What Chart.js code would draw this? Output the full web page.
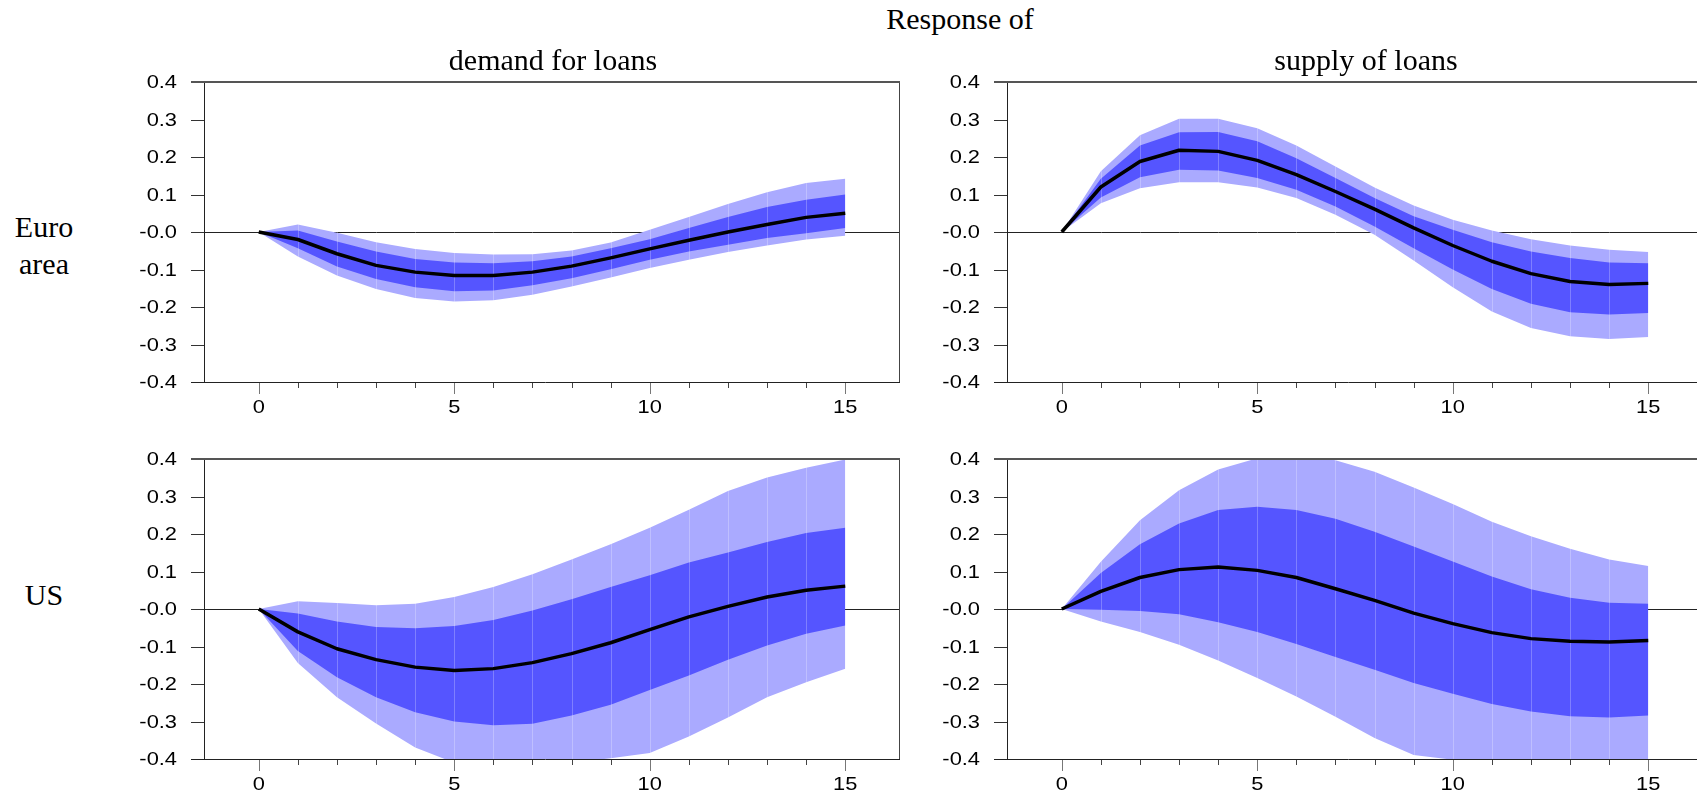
<!DOCTYPE html>
<html>
<head>
<meta charset="utf-8">
<script src="https://cdn.jsdelivr.net/npm/chart.js@4.4.1/dist/chart.umd.min.js"></script>
<style>
  html, body { margin: 0; padding: 0; background: #fff; overflow: hidden; }
  body { width: 1697px; height: 795px; position: relative; }
  canvas { position: absolute; }
  .lbl {
    position: absolute;
    font-family: "Liberation Serif", "Times New Roman", serif;
    font-size: 30px;
    line-height: 30px;
    color: #000;
    white-space: nowrap;
    transform: translateX(-50%);
  }
</style>
</head>
<body>
<script>
'use strict';

// Section 1: data
const horizons = [0, 1, 2, 3, 4, 5, 6, 7, 8, 9, 10, 11, 12, 13, 14, 15];
const xMajorTicks = [0, 5, 10, 15];
const xMajorLabels = ['0', '5', '10', '15'];
const yTickValues = [-0.4, -0.3, -0.2, -0.1, 0, 0.1, 0.2, 0.3, 0.4];
const yTickLabels = ['-0.4', '-0.3', '-0.2', '-0.1', '-0.0', '0.1', '0.2', '0.3', '0.4'];

const mainTitle = 'Response of';
const columnTitles = ['demand for loans', 'supply of loans'];
const rowTitles = [['Euro', 'area'], ['US']];

// euro area, demand for loans
const euroDemandMean = [0, -0.02, -0.058, -0.089, -0.107, -0.116, -0.116, -0.107, -0.091, -0.069, -0.045, -0.022, 0.0, 0.02, 0.039, 0.05];
const euroDemandUp68 = [0, 0.004, -0.025, -0.052, -0.072, -0.081, -0.083, -0.078, -0.065, -0.043, -0.019, 0.011, 0.04, 0.067, 0.086, 0.1];
const euroDemandLo68 = [0, -0.043, -0.092, -0.125, -0.147, -0.158, -0.156, -0.142, -0.123, -0.099, -0.074, -0.052, -0.034, -0.016, -0.003, 0.011];
const euroDemandUp90 = [0, 0.02, -0.002, -0.027, -0.045, -0.056, -0.06, -0.059, -0.049, -0.028, 0.006, 0.04, 0.075, 0.106, 0.131, 0.142];
const euroDemandLo90 = [0, -0.065, -0.116, -0.152, -0.176, -0.185, -0.182, -0.167, -0.145, -0.121, -0.096, -0.074, -0.053, -0.036, -0.02, -0.01];

// euro area, supply of loans
const euroSupplyMean = [0, 0.12, 0.188, 0.218, 0.215, 0.191, 0.153, 0.108, 0.061, 0.011, -0.036, -0.078, -0.111, -0.132, -0.14, -0.137];
const euroSupplyUp68 = [0, 0.142, 0.231, 0.266, 0.267, 0.242, 0.197, 0.144, 0.091, 0.042, 0.006, -0.027, -0.052, -0.069, -0.081, -0.083];
const euroSupplyLo68 = [0, 0.092, 0.146, 0.166, 0.164, 0.144, 0.113, 0.068, 0.015, -0.043, -0.1, -0.152, -0.191, -0.214, -0.22, -0.216];
const euroSupplyUp90 = [0, 0.162, 0.258, 0.302, 0.302, 0.277, 0.231, 0.175, 0.119, 0.071, 0.033, 0.004, -0.019, -0.036, -0.047, -0.053];
const euroSupplyLo90 = [0, 0.077, 0.117, 0.133, 0.133, 0.119, 0.091, 0.046, -0.007, -0.076, -0.147, -0.212, -0.256, -0.278, -0.285, -0.28];

// US, demand for loans
const usDemandMean = [0, -0.061, -0.106, -0.135, -0.155, -0.164, -0.159, -0.143, -0.119, -0.09, -0.055, -0.021, 0.007, 0.032, 0.05, 0.061];
const usDemandUp68 = [0, -0.012, -0.033, -0.048, -0.051, -0.045, -0.029, -0.004, 0.026, 0.059, 0.09, 0.124, 0.151, 0.179, 0.203, 0.217];
const usDemandLo68 = [0, -0.112, -0.182, -0.235, -0.275, -0.3, -0.31, -0.306, -0.284, -0.255, -0.216, -0.177, -0.135, -0.097, -0.066, -0.044];
const usDemandUp90 = [0, 0.021, 0.016, 0.01, 0.014, 0.032, 0.059, 0.093, 0.132, 0.173, 0.217, 0.265, 0.315, 0.351, 0.377, 0.399];
const usDemandLo90 = [0, -0.144, -0.235, -0.305, -0.369, -0.41, -0.425, -0.42, -0.41, -0.398, -0.384, -0.34, -0.289, -0.235, -0.195, -0.159];

// US, supply of loans
const usSupplyMean = [0, 0.047, 0.084, 0.105, 0.112, 0.103, 0.084, 0.054, 0.023, -0.011, -0.039, -0.063, -0.079, -0.086, -0.088, -0.084];
const usSupplyUp68 = [0, 0.096, 0.173, 0.228, 0.264, 0.273, 0.264, 0.241, 0.206, 0.167, 0.127, 0.087, 0.053, 0.03, 0.017, 0.014];
const usSupplyLo68 = [0, -0.002, -0.005, -0.014, -0.035, -0.061, -0.093, -0.128, -0.162, -0.197, -0.226, -0.253, -0.273, -0.286, -0.289, -0.284];
const usSupplyUp90 = [0, 0.126, 0.237, 0.317, 0.372, 0.402, 0.41, 0.397, 0.366, 0.324, 0.28, 0.233, 0.194, 0.161, 0.132, 0.115];
const usSupplyLo90 = [0, -0.033, -0.061, -0.095, -0.137, -0.184, -0.233, -0.287, -0.344, -0.389, -0.402, -0.415, -0.42, -0.42, -0.42, -0.415];


// Section 2: layout and styles
const bandLight = '#aaaaff';
const bandDark = '#5555ff';
const tickFont = '19px "Liberation Sans", Arial, sans-serif';
const tickStretch = 1.15;

const plotWidth = 696;
const plotHeight = 300;
const padLeft = 80;
const padTop = 12;
const padRight = 4;
const padBottom = 40;

const panels = [
    {left: 204, top: 82, series: [euroDemandMean, euroDemandUp68, euroDemandLo68, euroDemandUp90, euroDemandLo90]},
    {left: 1007, top: 82, series: [euroSupplyMean, euroSupplyUp68, euroSupplyLo68, euroSupplyUp90, euroSupplyLo90]},
    {left: 204, top: 459, series: [usDemandMean, usDemandUp68, usDemandLo68, usDemandUp90, usDemandLo90]},
    {left: 1007, top: 459, series: [usSupplyMean, usSupplyUp68, usSupplyLo68, usSupplyUp90, usSupplyLo90]},
];

// text positions: centre x and baseline y
const textSpots = [
    {text: mainTitle, x: 960, base: 29},
    {text: columnTitles[0], x: 553, base: 70},
    {text: columnTitles[1], x: 1366, base: 70},
    {text: rowTitles[0][0], x: 44, base: 237},
    {text: rowTitles[0][1], x: 44, base: 274},
    {text: rowTitles[1][0], x: 44, base: 605},
];


// Section 3: drawing helpers
function toPoints(values) {
    return horizons.map((h, i) => ({x: h, y: values[i]}));
}

function strokeLine(ctx, x1, y1, x2, y2) {
    ctx.beginPath();
    ctx.moveTo(x1, y1);
    ctx.lineTo(x2, y2);
    ctx.stroke();
}

const axisDecor = {
    id: 'axisDecor',
    // faint seams between band segments, under the mean line
    beforeDatasetDraw(chart, args) {
        if (args.index !== 0) return;
        const {ctx, chartArea: a, scales} = chart;
        ctx.save();
        ctx.beginPath();
        ctx.rect(a.left, a.top, a.width, a.height);
        ctx.clip();
        ctx.strokeStyle = 'rgba(255,255,255,0.25)';
        ctx.lineWidth = 1;
        for (const h of horizons.slice(1, -1)) {
            const px = Math.round(scales.x.getPixelForValue(h)) + 0.5;
            strokeLine(ctx, px, a.top, px, a.bottom);
        }
        ctx.restore();
    },
    afterDraw(chart) {
        const {ctx, chartArea: a, scales} = chart;
        const xs = scales.x;
        const ys = scales.y;
        ctx.save();
        ctx.lineWidth = 1;

        // y ticks
        ctx.strokeStyle = '#333';
        for (const v of yTickValues) {
            const py = Math.round(ys.getPixelForValue(v)) + 0.5;
            strokeLine(ctx, a.left - 13, py, a.left, py);
        }

        // x ticks, longer at labelled horizons
        for (const h of horizons) {
            const px = Math.round(xs.getPixelForValue(h)) + 0.5;
            const major = xMajorTicks.includes(h);
            ctx.strokeStyle = major ? '#777' : '#444';
            strokeLine(ctx, px, a.bottom, px, a.bottom + (major ? 12 : 6));
        }

        // frame
        ctx.strokeStyle = '#222';
        strokeLine(ctx, a.left + 0.5, a.top, a.left + 0.5, a.bottom);
        strokeLine(ctx, a.left - 13, a.bottom + 0.5, a.right, a.bottom + 0.5);
        ctx.strokeStyle = '#444';
        strokeLine(ctx, a.right - 0.5, a.top, a.right - 0.5, a.bottom);
        ctx.strokeStyle = '#555';
        ctx.lineWidth = 2;
        strokeLine(ctx, a.left - 13, a.top, a.right, a.top);

        // tick labels, stretched sideways like the original
        ctx.font = tickFont;
        ctx.fillStyle = '#000';
        ctx.textBaseline = 'middle';
        ctx.textAlign = 'right';
        yTickValues.forEach((v, i) => {
            ctx.save();
            ctx.translate(a.left - 27, ys.getPixelForValue(v) + 1);
            ctx.scale(tickStretch, 1);
            ctx.fillText(yTickLabels[i], 0, 0);
            ctx.restore();
        });
        ctx.textAlign = 'center';
        xMajorTicks.forEach((h, i) => {
            ctx.save();
            ctx.translate(xs.getPixelForValue(h), a.bottom + 26);
            ctx.scale(tickStretch, 1);
            ctx.fillText(xMajorLabels[i], 0, 0);
            ctx.restore();
        });
        ctx.restore();
    }
};


// Section 4: build the panels
function drawPanel(panel) {
    const canvas = document.createElement('canvas');
    canvas.width = plotWidth + padLeft + padRight;
    canvas.height = plotHeight + padTop + padBottom;
    canvas.style.left = `${panel.left - padLeft}px`;
    canvas.style.top = `${panel.top - padTop}px`;
    document.body.appendChild(canvas);

    const [mean, up68, lo68, up90, lo90] = panel.series;
    const band = {borderWidth: 0, borderColor: 'transparent', pointRadius: 0, tension: 0};

    new Chart(canvas, {
        type: 'line',
        data: {
            datasets: [
                {
                    label: 'response',
                    data: toPoints(mean),
                    borderColor: '#000',
                    borderWidth: 3.5,
                    borderJoinStyle: 'round',
                    pointRadius: 0,
                    tension: 0,
                    fill: false,
                },
                {...band, label: 'upper 68', data: toPoints(up68), backgroundColor: bandDark, fill: '+1'},
                {...band, label: 'lower 68', data: toPoints(lo68), fill: false},
                {...band, label: 'upper 90', data: toPoints(up90), backgroundColor: bandLight, fill: '+1'},
                {...band, label: 'lower 90', data: toPoints(lo90), fill: false},
            ],
        },
        options: {
            responsive: false,
            animation: false,
            events: [],
            layout: {
                padding: {left: 0, top: padTop, right: padRight, bottom: 0},
            },
            scales: {
                x: {
                    type: 'linear',
                    min: -1.4,
                    max: 16.4,
                    afterBuildTicks: scale => {
                        scale.ticks = horizons.map(h => ({value: h}));
                    },
                    afterFit: scale => {
                        scale.height = padBottom;
                    },
                    grid: {display: false},
                    border: {display: false},
                    ticks: {display: false},
                },
                y: {
                    min: -0.4,
                    max: 0.4,
                    afterBuildTicks: scale => {
                        scale.ticks = yTickValues.map(v => ({value: v}));
                    },
                    afterFit: scale => {
                        scale.width = padLeft;
                    },
                    grid: {
                        drawTicks: false,
                        color: ctx => (ctx.tick && ctx.tick.value === 0 ? '#222' : 'rgba(0,0,0,0)'),
                    },
                    border: {display: false},
                    ticks: {display: false},
                },
            },
            plugins: {
                legend: {display: false},
                tooltip: {enabled: false},
            },
        },
        plugins: [axisDecor],
    });
}

for (const panel of panels) {
    drawPanel(panel);
}

for (const spot of textSpots) {
    const div = document.createElement('div');
    div.className = 'lbl';
    div.innerText = spot.text;
    div.style.left = `${spot.x}px`;
    div.style.top = `${spot.base - 25}px`;
    document.body.appendChild(div);
}
</script>
</body>
</html>
